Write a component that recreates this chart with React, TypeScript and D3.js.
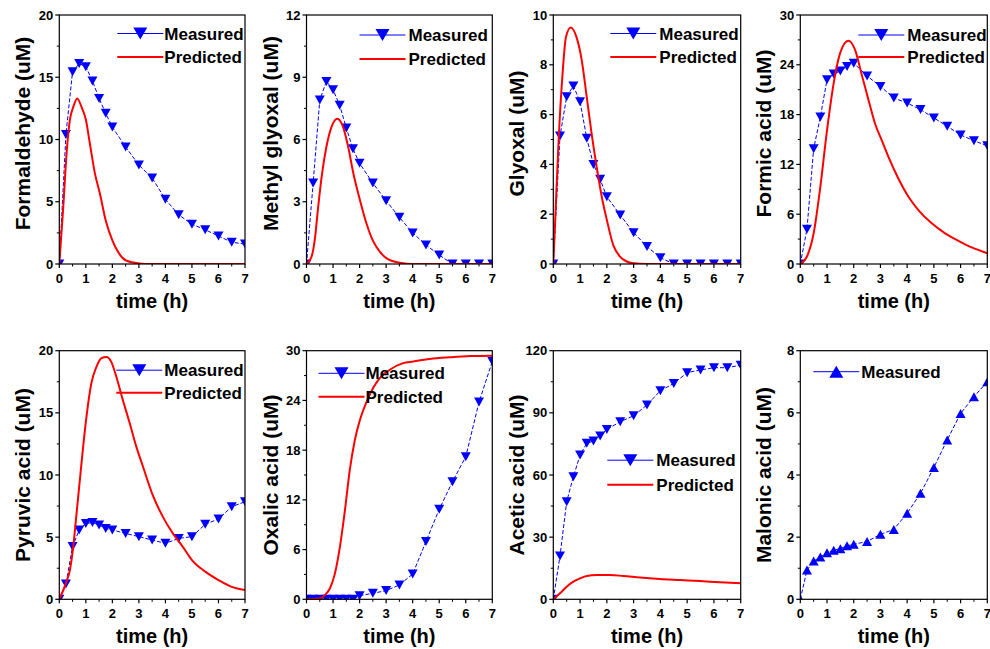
import React from "react";
import * as d3 from "d3";

// ---------- data ----------
const timeMeasured = [0, 0.25, 0.5, 0.75, 1, 1.25, 1.5, 1.75, 2, 2.5, 3, 3.5, 4, 4.5, 5, 5.5, 6, 6.5, 7];

const formaldehydeMeasured = [0, 10.4, 15.45, 16.1, 15.85, 14.7, 13.3, 12.1, 11.0, 9.4, 7.95, 6.9, 5.2, 3.95, 3.2, 2.75, 2.25, 1.75, 1.6];
const formaldehydePredT = [0, 0.15, 0.275, 0.4, 0.525, 0.675, 0.84, 1.0, 1.15, 1.34, 1.525, 1.75, 2, 2.25, 2.5, 3, 3.5, 7];
const formaldehydePredV = [0, 4.6, 8.9, 11.6, 12.6, 13.3, 12.6, 11.6, 9.7, 7.3, 5.7, 3.5, 1.9, 0.85, 0.3, 0.05, 0, 0];

const methylMeasured = [0, 3.9, 7.9, 8.8, 8.4, 7.65, 6.55, 5.55, 4.85, 3.9, 3.05, 2.25, 1.5, 0.92, 0.43, 0, 0, 0, 0];
const methylPredT = [0, 0.19, 0.31, 0.44, 0.57, 0.75, 0.94, 1.16, 1.38, 1.57, 1.76, 2.01, 2.26, 2.51, 2.76, 3.02, 3.52, 4, 7];
const methylPredV = [0, 0.35, 1.15, 2.75, 4.2, 5.65, 6.6, 7.0, 6.6, 5.65, 4.4, 3.1, 1.95, 1.1, 0.6, 0.27, 0.06, 0, 0];

const glyoxalMeasured = [0, 5.14, 6.72, 7.15, 6.52, 5.05, 4.0, 3.4, 2.7, 1.97, 1.26, 0.7, 0.25, 0, 0, 0, 0, 0, 0];
const glyoxalPredT = [0, 0.08, 0.2, 0.35, 0.47, 0.65, 0.87, 1.06, 1.25, 1.43, 1.62, 1.81, 2.0, 2.24, 2.49, 2.74, 2.99, 3.5, 7];
const glyoxalPredV = [0, 2.0, 5.0, 7.7, 9.1, 9.5, 9.1, 8.2, 6.7, 5.25, 3.9, 2.7, 1.77, 0.76, 0.3, 0.1, 0.03, 0, 0];

const formicMeasured = [0, 4.2, 13.9, 17.7, 22.2, 22.9, 23.25, 23.8, 24.2, 22.65, 21.4, 20.0, 19.4, 18.6, 17.6, 16.6, 15.55, 14.85, 14.25];
const formicPredT = [0, 0.25, 0.5, 0.75, 1.0, 1.25, 1.49, 1.8, 2.05, 2.3, 2.55, 2.8, 3.05, 3.3, 3.67, 4.05, 4.42, 4.92, 5.42, 5.92, 6.42, 7];
const formicPredV = [0, 0.9, 3.7, 9.3, 16.1, 21.8, 25.4, 26.9, 25.8, 22.8, 19.8, 16.9, 14.9, 12.9, 10.3, 8.1, 6.5, 4.9, 3.7, 2.8, 2.0, 1.3];

const pyruvicMeasured = [0, 1.23, 4.24, 5.58, 6.1, 6.17, 5.98, 5.7, 5.58, 5.3, 5.04, 4.77, 4.5, 4.9, 5.04, 6.03, 6.46, 7.45, 7.85];
const pyruvicPredT = [0, 0.25, 0.4, 0.525, 0.65, 0.775, 0.9, 1.025, 1.21, 1.4, 1.59, 1.775, 1.96, 2.15, 2.4, 2.65, 2.9, 3.15, 3.5, 3.9, 4.28, 4.65, 5.0, 5.5, 6.0, 6.5, 7.0];
const pyruvicPredV = [0, 1.3, 2.36, 4.24, 6.9, 9.6, 12.3, 14.7, 17.4, 18.7, 19.4, 19.5, 19.1, 17.9, 16.0, 14.2, 12.3, 10.7, 8.5, 6.65, 5.3, 4.24, 3.16, 2.23, 1.55, 1.0, 0.75];

const oxalicMeasured = [0, 0, 0, 0, 0, 0, 0, 0, 0.44, 0.72, 1.05, 1.73, 3.05, 6.96, 10.86, 14.2, 17.2, 23.8, 28.7];
const oxalicPredT = [0, 0.5, 0.69, 0.88, 1.07, 1.26, 1.45, 1.63, 1.82, 2.01, 2.26, 2.51, 2.76, 3.14, 3.64, 4.02, 4.65, 5.4, 6.16, 7];
const oxalicPredV = [0, 0.1, 0.5, 1.3, 3.1, 6.35, 10.8, 15.6, 19.2, 21.6, 23.8, 25.5, 26.7, 27.7, 28.5, 28.7, 29.0, 29.2, 29.35, 29.4];

const aceticMeasured = [0, 20.9, 47.1, 59.2, 69.6, 75.3, 76.4, 78.8, 82.0, 85.7, 88.6, 93.8, 100.7, 104.2, 109.4, 110.7, 111.8, 111.8, 113];
const aceticPredT = [0, 0.25, 0.5, 0.75, 1.0, 1.25, 1.62, 2.12, 2.6, 3.24, 3.98, 4.73, 5.48, 6.23, 7];
const aceticPredV = [0, 2.9, 6.1, 8.5, 10.1, 11.3, 11.7, 11.7, 11.3, 10.5, 9.8, 9.3, 8.8, 8.2, 7.7];

const malonicMeasured = [0, 0.94, 1.23, 1.36, 1.5, 1.58, 1.63, 1.72, 1.77, 1.86, 2.09, 2.25, 2.77, 3.41, 4.24, 5.13, 5.98, 6.52, 7.0];

const xTicks = [0, 1, 2, 3, 4, 5, 6, 7];
const titles = [
  "Formaldehyde (uM)", "Methyl glyoxal (uM)", "Glyoxal (uM)", "Formic acid (uM)",
  "Pyruvic acid (uM)", "Oxalic acid (uM)", "Acetic acid (uM)", "Malonic acid (uM)",
];
const yMax = [20, 12, 10, 30, 20, 30, 120, 8];
const yStep = [5, 3, 2, 6, 5, 6, 30, 2];
const measuredSeries = [formaldehydeMeasured, methylMeasured, glyoxalMeasured, formicMeasured, pyruvicMeasured, oxalicMeasured, aceticMeasured, malonicMeasured];
const predT = [formaldehydePredT, methylPredT, glyoxalPredT, formicPredT, pyruvicPredT, oxalicPredT, aceticPredT, null];
const predV = [formaldehydePredV, methylPredV, glyoxalPredV, formicPredV, pyruvicPredV, oxalicPredV, aceticPredV, null];

// ---------- layout ----------
const lefts = [59.3, 306.5, 553.3, 800.3];
const rights = [245, 492.3, 740.7, 987.3];
const tops = [15, 350.7];
const bottoms = [264, 599.3];
// legend offsets (line start x, text x, row1 y, row2 y) relative to plot left/top
const legendPos = [
  [58, 105, 18.5, 42],
  [53, 102, 20, 44],
  [57, 106, 18.5, 42],
  [58, 107, 20, 42],
  [57, 105, 19.5, 42],
  [12, 59, 22.6, 46],
  [54, 103, 109.5, 134],
  [13, 61, 21, 0],
];
const titleShift = [-6, 0];

const FONT = "'Liberation Sans', Arial, sans-serif";
const BLUE = "#0000ff";
const RED = "#ff0000";

function triDown(cx: number, cy: number, w: number, h: number) {
  return `M${cx - w / 2},${cy - h / 2}L${cx + w / 2},${cy - h / 2}L${cx},${cy + h / 2}Z`;
}
function triUp(cx: number, cy: number, w: number, h: number) {
  return `M${cx - w / 2},${cy + h / 2}L${cx + w / 2},${cy + h / 2}L${cx},${cy - h / 2}Z`;
}

function Panel({ i }: { i: number }) {
  const col = i % 4;
  const row = Math.floor(i / 4);
  const L = lefts[col], R = rights[col], T = tops[row], B = bottoms[row];
  const x = d3.scaleLinear().domain([0, 7]).range([L, R]);
  const y = d3.scaleLinear().domain([0, yMax[i]]).range([B, T]);
  const yTicks = d3.range(0, yMax[i] + 1e-9, yStep[i]);
  const yMinor = d3.range(yStep[i] / 2, yMax[i], yStep[i]);
  const xMinor = d3.range(0.5, 7, 1);
  const isUp = i === 7;
  const meas = measuredSeries[i];
  const measLine = d3.line<number>().x((_, k) => x(timeMeasured[k])).y((v) => y(v))(meas) || "";
  let predPath = "";
  const pt = predT[i], pv = predV[i];
  if (pt && pv) {
    predPath = d3.line<number>().x((t) => x(t)).y((_, k) => y(pv[k])).curve(d3.curveMonotoneX)(pt) || "";
  }
  const clipId = `clip${i}`;
  const lp = legendPos[i];
  const lx0 = L + lp[0], lx1 = L + lp[0] + 46, tx = L + lp[1];
  const ly1 = T + lp[2], ly2 = T + lp[3];
  const mk = isUp ? triUp : triDown;
  return (
    <g>
      <defs>
        <clipPath id={clipId}>
          <rect x={L} y={T} width={R - L} height={B - T} />
        </clipPath>
      </defs>
      <g clipPath={`url(#${clipId})`}>
        <path d={measLine} fill="none" stroke={BLUE} strokeWidth={1} strokeDasharray="4,2" />
        {meas.map((v, k) => (
          <path key={k} d={mk(x(timeMeasured[k]), y(v), 10, 9)} fill={BLUE} />
        ))}
        {predPath && <path d={predPath} fill="none" stroke={RED} strokeWidth={2} />}
      </g>
      {/* frame */}
      <rect x={L} y={T} width={R - L} height={B - T} fill="none" stroke="#000" strokeWidth={1.2} />
      {/* x ticks */}
      {xTicks.map((t) => (
        <g key={"xt" + t}>
          <line x1={x(t)} x2={x(t)} y1={B} y2={B + 4} stroke="#000" strokeWidth={1.2} />
          <text x={x(t)} y={B + 19} textAnchor="middle" fontFamily={FONT} fontWeight="bold" fontSize={13}>{t}</text>
        </g>
      ))}
      {xMinor.map((t) => (
        <line key={"xm" + t} x1={x(t)} x2={x(t)} y1={B} y2={B + 2.5} stroke="#000" strokeWidth={1} />
      ))}
      {/* y ticks */}
      {yTicks.map((v) => (
        <g key={"yt" + v}>
          <line x1={L - 4} x2={L} y1={y(v)} y2={y(v)} stroke="#000" strokeWidth={1.2} />
          <text x={L - 6} y={y(v) + 4.6} textAnchor="end" fontFamily={FONT} fontWeight="bold" fontSize={13}>{v}</text>
        </g>
      ))}
      {yMinor.map((v) => (
        <line key={"ym" + v} x1={L - 2.5} x2={L} y1={y(v)} y2={y(v)} stroke="#000" strokeWidth={1} />
      ))}
      {/* axis titles */}
      <text x={(L + R) / 2} y={B + 44} textAnchor="middle" fontFamily={FONT} fontWeight="bold" fontSize={20}>time (h)</text>
      <text
        transform={`translate(${L - 29},${(T + B) / 2 + titleShift[row]}) rotate(-90)`}
        textAnchor="middle" fontFamily={FONT} fontWeight="bold" fontSize={21}
      >{titles[i]}</text>
      {/* legend */}
      <line x1={lx0} x2={lx1} y1={ly1} y2={ly1} stroke={BLUE} strokeWidth={1} />
      <path d={mk((lx0 + lx1) / 2, ly1, 14, 12)} fill={BLUE} />
      <text x={tx} y={ly1 + 6} fontFamily={FONT} fontWeight="bold" fontSize={17}>Measured</text>
      {predPath && (
        <g>
          <line x1={lx0} x2={lx1} y1={ly2} y2={ly2} stroke={RED} strokeWidth={2} />
          <text x={tx} y={ly2 + 6} fontFamily={FONT} fontWeight="bold" fontSize={17}>Predicted</text>
        </g>
      )}
    </g>
  );
}

export default function App() {
  return (
    <svg width={990} height={649} style={{ position: "absolute", left: 0, top: 0, display: "block", background: "#fff" }}>
      <rect width={990} height={649} fill="#fff" />
      {d3.range(8).map((i) => <Panel key={i} i={i} />)}
    </svg>
  );
}
